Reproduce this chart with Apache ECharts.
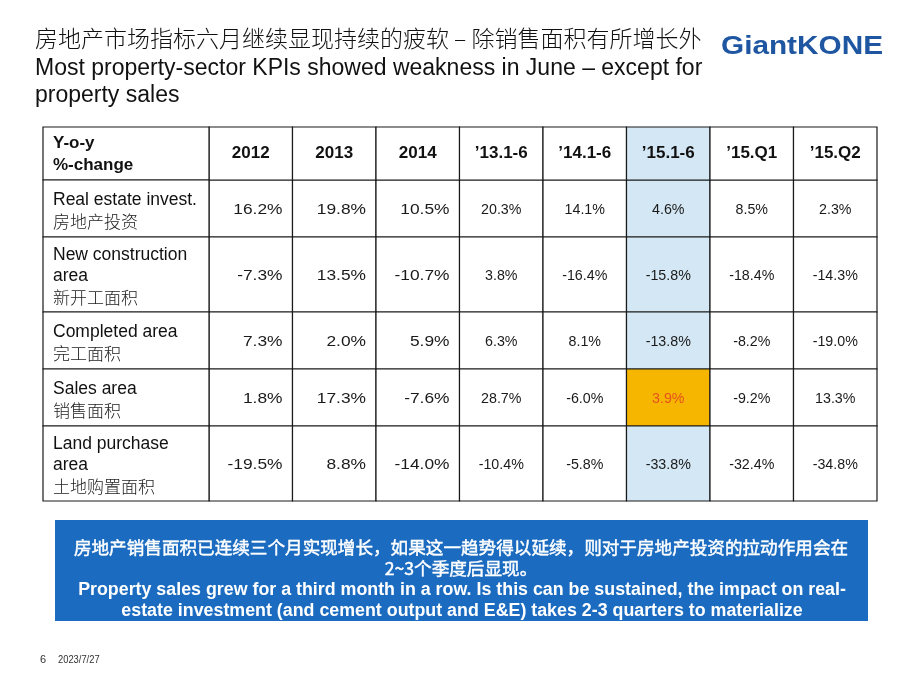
<!DOCTYPE html>
<html><head><meta charset="utf-8">
<script src="https://cdn.jsdelivr.net/npm/echarts@6/dist/echarts.min.js"></script>
<style>html,body{margin:0;padding:0;background:#fff}#c{width:920px;height:690px}</style>
</head><body><div id="c"></div>
<script>
// ---- data ----
const columns = ['2012', '2013', '2014', '\u201913.1-6', '\u201914.1-6', '\u201915.1-6', '\u201915.Q1', '\u201915.Q2'];
const cornerLabel = ['Y-o-y', '%-change'];
const rowLabelsEn = ['Real estate invest.', 'New construction\narea', 'Completed area', 'Sales area', 'Land purchase\narea'];
const rowLabelsZh = ['房地产投资', '新开工面积', '完工面积', '销售面积', '土地购置面积'];
const realEstateInvest = [16.2, 19.8, 10.5, 20.3, 14.1, 4.6, 8.5, 2.3];
const newConstructionArea = [-7.3, 13.5, -10.7, 3.8, -16.4, -15.8, -18.4, -14.3];
const completedArea = [7.3, 2.0, 5.9, 6.3, 8.1, -13.8, -8.2, -19.0];
const salesArea = [1.8, 17.3, -7.6, 28.7, -6.0, 3.9, -9.2, 13.3];
const landPurchaseArea = [-19.5, 8.8, -14.0, -10.4, -5.8, -33.8, -32.4, -34.8];
const highlightColumn = '\u201915.1-6';
const highlightCell = ['Sales area', '\u201915.1-6'];

const titleZh = '房地产市场指标六月继续显现持续的疲软 – 除销售面积有所增长外';
const titleEn = ['Most property-sector KPIs showed weakness in June – except for', 'property sales'];
const boxZh = ['房地产销售面积已连续三个月实现增长，如果这一趋势得以延续，则对于房地产投资的拉动作用会在', '2~3个季度后显现。'];
const boxEn = ['Property sales grew for a third month in a row. Is this can be sustained, the impact on real-', 'estate investment (and cement output and E&E) takes 2-3 quarters to materialize'];
const footerPage = '6';
const footerDate = '2023/7/27';

// ---- layout ----
const seriesRows = [realEstateInvest, newConstructionArea, completedArea, salesArea, landPurchaseArea];
const HEADER_H = 53, LABEL_W = 166;
const rowLines = rowLabelsEn.map(s => s.split('\n').length + 1);
const rowHeights = rowLines.map(n => 18 * n + 21);
const rowStarts = [];
rowHeights.reduce((acc, h, i) => { rowStarts[i] = acc; return acc + h; }, 0);
const totalH = rowHeights.reduce((a, b) => a + b, 0);

const EN = 'Liberation Sans, Arial, sans-serif';
const ZH = 'Noto Sans CJK SC, sans-serif';
const LINE = '#1a1a1a';
const HL_FILL = '#d4e7f4';

const cellData = [];
seriesRows.forEach((arr, r) => arr.forEach((v, c) => cellData.push([c, r, v])));

function bandInfo(api, col, y0, y1) {
  const bw = api.size([1, 0])[0];
  const p0 = api.coord([col, y0]);
  const p1 = api.coord([col, y1]);
  return { cx: p0[0], x: p0[0] - bw / 2, w: bw, y: p0[1], h: p1[1] - p0[1] };
}

const boxZhStyle = { font: '17.6px ' + ZH, fill: '#fff', stroke: '#fff', lineWidth: 0.45, align: 'center', verticalAlign: 'middle' };

const chart = echarts.init(document.getElementById('c'), null, { renderer: 'canvas' });
chart.setOption({
  animation: false,
  grid: { left: 209, right: 43, top: 127, height: HEADER_H + totalH },
  xAxis: { type: 'category', data: columns, show: false },
  yAxis: { type: 'value', min: -HEADER_H, max: totalH, inverse: true, show: false },
  graphic: [
    { type: 'text', x: 35, y: 38.5, style: { text: titleZh, font: '300 23px ' + ZH, fill: '#111', verticalAlign: 'middle' } },
    { type: 'text', x: 35, y: 69, style: { text: titleEn[0], font: '23px ' + EN, fill: '#111', verticalAlign: 'middle' } },
    { type: 'text', x: 35, y: 96, style: { text: titleEn[1], font: '23px ' + EN, fill: '#111', verticalAlign: 'middle' } },
    { type: 'text', x: 721, y: 47, scaleX: 1.19, style: { text: 'GiantKONE', font: 'bold 25px ' + EN, fill: '#1f56a2', verticalAlign: 'middle' } },
    { type: 'rect', shape: { x: 55, y: 520, width: 813, height: 101 }, style: { fill: '#1b6cc1' } },
    { type: 'text', x: 461, y: 547, style: Object.assign({ text: boxZh[0] }, boxZhStyle) },
    { type: 'text', x: 461, y: 568, style: Object.assign({ text: boxZh[1] }, boxZhStyle) },
    { type: 'text', x: 462, y: 590, scaleX: 0.99, style: { text: boxEn[0], font: 'bold 18px ' + EN, fill: '#fff', align: 'center', verticalAlign: 'middle' } },
    { type: 'text', x: 462, y: 611, scaleX: 0.99, style: { text: boxEn[1], font: 'bold 18px ' + EN, fill: '#fff', align: 'center', verticalAlign: 'middle' } },
    { type: 'text', x: 40, y: 660, style: { text: footerPage, font: '11px ' + EN, fill: '#333', verticalAlign: 'middle' } },
    { type: 'text', x: 58, y: 660, scaleX: 0.85, style: { text: footerDate, font: '11px ' + EN, fill: '#333', verticalAlign: 'middle' } }
  ],
  series: [
    {
      type: 'custom', name: 'cells', data: cellData, encode: { x: 0, y: 1 },
      renderItem: function (params, api) {
        const c = api.value(0), r = api.value(1), v = api.value(2);
        const b = bandInfo(api, c, rowStarts[r], rowStarts[r] + rowHeights[r]);
        const isHLcol = columns[c] === highlightColumn;
        const isHLcell = rowLabelsEn[r].replace('\n', ' ') === highlightCell[0] && columns[c] === highlightCell[1];
        const fill = isHLcell ? '#f6b600' : (isHLcol ? HL_FILL : '#fff');
        const wide = c < 3;
        const txt = v.toFixed(1) + '%';
        return {
          type: 'group', children: [
            { type: 'rect', shape: { x: b.x, y: b.y, width: b.w, height: b.h }, style: { fill: fill, stroke: LINE, lineWidth: 1.2 } },
            {
              type: 'text', x: wide ? b.x + b.w - 10 : b.cx, y: b.y + b.h / 2 + 1,
              scaleX: wide ? 1.12 : 0.95,
              style: { text: txt, font: (wide ? '15.5px ' : '15px ') + EN, fill: isHLcell ? '#e5531c' : '#1a1a1a', align: wide ? 'right' : 'center', verticalAlign: 'middle' }
            }
          ]
        };
      }
    },
    {
      type: 'custom', name: 'header', data: columns.map((c, i) => [i, 0]), encode: { x: 0, y: 1 },
      renderItem: function (params, api) {
        const c = api.value(0);
        const b = bandInfo(api, c, -HEADER_H, 0);
        const fill = columns[c] === highlightColumn ? HL_FILL : '#fff';
        return {
          type: 'group', children: [
            { type: 'rect', shape: { x: b.x, y: b.y, width: b.w, height: b.h }, style: { fill: fill, stroke: LINE, lineWidth: 1.2 } },
            { type: 'text', x: b.cx, y: b.y + b.h / 2, style: { text: columns[c], font: 'bold 17px ' + EN, fill: '#111', align: 'center', verticalAlign: 'middle' } }
          ]
        };
      }
    },
    {
      type: 'custom', name: 'rowLabels', data: [-1].concat(rowLabelsEn.map((s, i) => i)).map(i => [0, i]), encode: { x: 0, y: 1 },
      renderItem: function (params, api) {
        const r = api.value(1);
        const isCorner = r < 0;
        const b = bandInfo(api, 0, isCorner ? -HEADER_H : rowStarts[r], isCorner ? 0 : rowStarts[r] + rowHeights[r]);
        const x0 = b.x - LABEL_W;
        const children = [{ type: 'rect', shape: { x: x0, y: b.y, width: LABEL_W, height: b.h }, style: { fill: '#fff', stroke: LINE, lineWidth: 1.2 } }];
        const LH = 21.5;
        if (isCorner) {
          const cy = b.y + b.h / 2 + 1;
          cornerLabel.forEach((t, k) => children.push({ type: 'text', x: x0 + 10, y: cy + (k - 0.5) * LH, style: { text: t, font: 'bold 17px ' + EN, fill: '#111', verticalAlign: 'middle' } }));
        } else {
          const en = rowLabelsEn[r].split('\n');
          const n = en.length + 1;
          const cy = b.y + b.h / 2 + 2;
          const first = cy - (n - 1) * LH / 2;
          en.forEach((t, k) => children.push({ type: 'text', x: x0 + 10, y: first + k * LH, style: { text: t, font: '17.5px ' + EN, fill: '#111', verticalAlign: 'middle' } }));
          children.push({ type: 'text', x: x0 + 10, y: first + en.length * LH, style: { text: rowLabelsZh[r], font: '300 17px ' + ZH, fill: '#222', verticalAlign: 'middle' } });
        }
        return { type: 'group', children: children };
      }
    }
  ]
});
</script>
</body></html>
